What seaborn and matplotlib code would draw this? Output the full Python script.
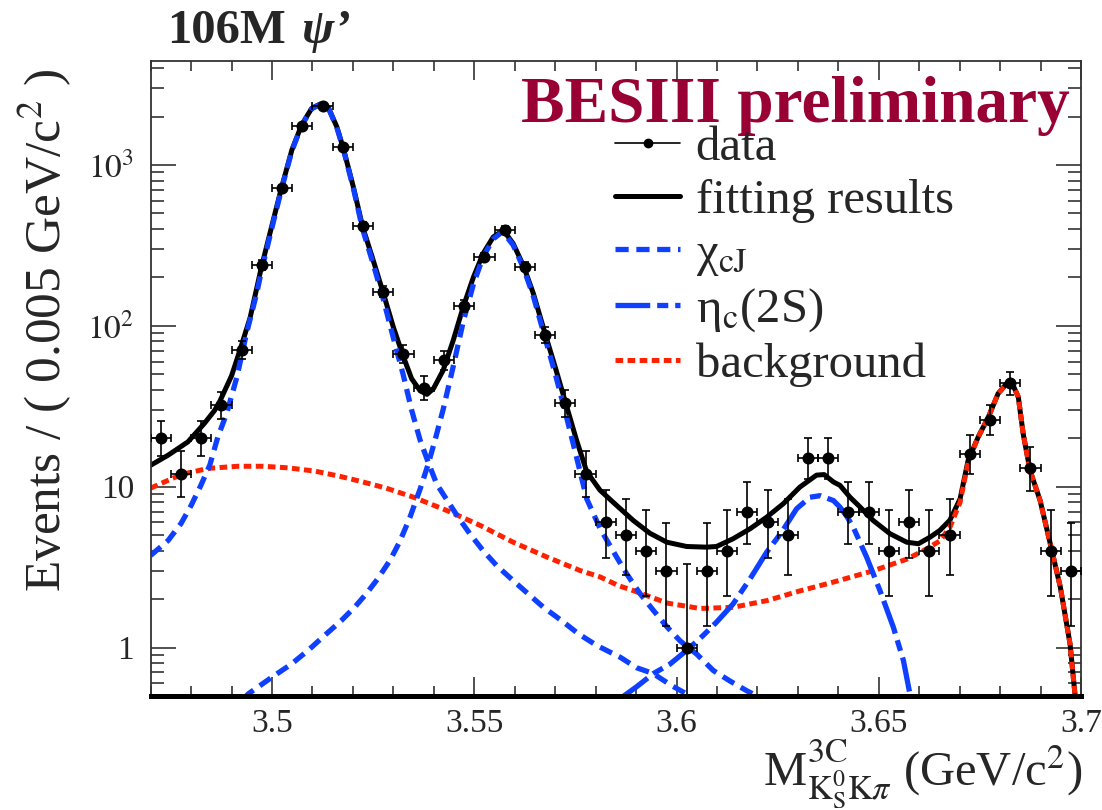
import math
import numpy as np
import pandas as pd
import matplotlib
matplotlib.use("Agg")
import matplotlib.pyplot as plt
import seaborn as sns
from matplotlib.lines import Line2D
from matplotlib.ticker import MultipleLocator, LogLocator, FixedLocator, NullFormatter

# ---------------- data ----------------
bin_centers = [3.4725, 3.4775, 3.4825, 3.4875, 3.4925, 3.4975, 3.5025, 3.5075, 3.5125, 3.5175,
               3.5225, 3.5275, 3.5325, 3.5375, 3.5425, 3.5475, 3.5525, 3.5575, 3.5625, 3.5675,
               3.5725, 3.5775, 3.5825, 3.5875, 3.5925, 3.5975, 3.6025, 3.6075, 3.6125, 3.6175,
               3.6225, 3.6275, 3.6325, 3.6375, 3.6425, 3.6475, 3.6525, 3.6575, 3.6625, 3.6675,
               3.6725, 3.6775, 3.6825, 3.6875, 3.6925, 3.6975]
counts = [20, 12, 20, 32, 71, 239, 720, 1747, 2325, 1294,
          418, 163, 67, 41, 61, 133, 268, 395, 233, 88,
          33, 12, 6, 5, 4, 3, 1, 3, 4, 7,
          6, 5, 15, 15, 7, 7, 4, 6, 4, 5,
          16, 26, 44, 13, 4, 3]
bin_width = 0.005

fit_x = [3.4700, 3.4743, 3.4792, 3.4833, 3.4858, 3.4871, 3.4900, 3.4921, 3.4946, 3.4974,
         3.5003, 3.5024, 3.5049, 3.5073, 3.5098, 3.5119, 3.5139, 3.5160, 3.5176, 3.5201,
         3.5224, 3.5250, 3.5274, 3.5300, 3.5324, 3.5345, 3.5366, 3.5383, 3.5399, 3.5423,
         3.5448, 3.5473, 3.5498, 3.5522, 3.5547, 3.5572, 3.5596, 3.5621, 3.5646, 3.5675,
         3.5700, 3.5724, 3.5753, 3.5778, 3.5811, 3.5852, 3.5893, 3.5934, 3.5976, 3.6025,
         3.6074, 3.6099, 3.6140, 3.6182, 3.6223, 3.6264, 3.6305, 3.6346, 3.6365, 3.6388,
         3.6404, 3.6429, 3.6454, 3.6486, 3.6528, 3.6569, 3.6598, 3.6627, 3.6651, 3.6676,
         3.6701, 3.6721, 3.6746, 3.6771, 3.6795, 3.6816, 3.6832, 3.6845, 3.6857, 3.6874,
         3.6899, 3.6924, 3.6949, 3.6973, 3.6985, 3.6990]
fit_y = [13.6, 15.7, 19.0, 24.8, 29.8, 34.0, 49.0, 71.0, 113, 233,
         454, 731, 1238, 1771, 2250, 2393, 2280, 1730, 1274, 731,
         412, 256, 163, 98, 65, 47, 39.5, 37.5, 40.7, 52.9,
         81.3, 132, 201, 282, 357, 393, 325, 238, 159, 89.5,
         55.5, 34.4, 19.4, 12.4, 9.5, 7.65, 6.17, 5.14, 4.52, 4.25,
         4.21, 4.25, 4.75, 5.48, 6.47, 7.84, 9.95, 11.8, 11.9, 10.7,
         10.2, 8.6, 7.47, 6.17, 5.1, 4.52, 4.42, 4.86, 5.35, 6.2,
         8.4, 14.6, 20.4, 27.1, 37.9, 43.7, 42.7, 36.1, 21.4, 12.6,
         8.2, 4.42, 2.37, 1.05, 0.515, 0.45]

chic1_x = [3.4700, 3.4743, 3.4775, 3.4800, 3.4824, 3.4846, 3.4866, 3.4888, 3.4913, 3.4937,
           3.4962, 3.4974, 3.5003, 3.5024, 3.5049, 3.5073, 3.5098, 3.5119, 3.5139, 3.5160,
           3.5176, 3.5201, 3.5224, 3.5250, 3.5274, 3.5300, 3.5324, 3.5345, 3.5366, 3.5386,
           3.5407, 3.5428, 3.5460, 3.5489, 3.5522, 3.5555, 3.5596, 3.5633, 3.5671, 3.5716,
           3.5757, 3.5803, 3.5861, 3.5901, 3.5942, 3.5988, 3.6025, 3.6040]
chic1_y = [3.74, 4.63, 5.91, 7.65, 10.2, 13.6, 20.4, 28.6, 48, 90,
           159, 220, 440, 717, 1225, 1758, 2237, 2380, 2267, 1717,
           1261, 718, 398, 243, 150, 84, 50, 30, 19.5, 14.2,
           10.4, 8.6, 6.47, 5.1, 4.0, 3.24, 2.61, 2.16, 1.78, 1.47,
           1.22, 1.03, 0.87, 0.75, 0.69, 0.58, 0.515, 0.49]

chic2_x = [3.4930, 3.4941, 3.4998, 3.5048, 3.5089, 3.5130, 3.5171, 3.5204, 3.5233, 3.5262,
           3.5292, 3.5316, 3.5341, 3.5366, 3.5386, 3.5403, 3.5423, 3.5448, 3.5473,
           3.5498, 3.5522, 3.5547, 3.5570, 3.5596, 3.5621, 3.5646, 3.5675, 3.5700, 3.5724,
           3.5753, 3.5778, 3.5811, 3.5852, 3.5877, 3.5910, 3.5943, 3.5977, 3.6009, 3.6050,
           3.6091, 3.6132, 3.6173, 3.6206]
chic2_y = [0.48, 0.515, 0.65, 0.79, 0.96, 1.19, 1.47, 1.78, 2.16, 2.69,
           3.5, 4.57, 6.46, 9.66, 13.8, 19.5, 30.2, 56, 107,
           182, 269, 347, 386, 318, 231, 153, 84, 50.5, 29.8,
           15.2, 8.4, 5.5, 3.65, 2.87, 2.16, 1.7, 1.34, 1.1, 0.91,
           0.72, 0.62, 0.54, 0.49]

etac_x = [3.5860, 3.5901, 3.5943, 3.5984, 3.6025, 3.6066, 3.6099, 3.6140, 3.6182, 3.6223,
          3.6260, 3.6297, 3.6330, 3.6355, 3.6388, 3.6404, 3.6420, 3.6437, 3.6470, 3.6503,
          3.6536, 3.6561, 3.6577, 3.6582]
etac_y = [0.48, 0.57, 0.69, 0.79, 0.96, 1.19, 1.44, 1.87, 2.68, 3.92,
          5.22, 7.3, 8.6, 8.8, 8.2, 7.47, 6.6, 5.6, 3.65, 2.26,
          1.34, 0.83, 0.515, 0.47]

bkg_x = [3.4700, 3.4775, 3.4842, 3.4916, 3.4978, 3.5040, 3.5106, 3.5168, 3.5225, 3.5282,
         3.5350, 3.5433, 3.5515, 3.5596, 3.5680, 3.5762, 3.5811, 3.5856, 3.5893, 3.5977,
         3.6058, 3.6140, 3.6224, 3.6305, 3.6387, 3.6486, 3.6570, 3.6610, 3.6651, 3.6676,
         3.6701, 3.6721, 3.6746, 3.6771, 3.6795, 3.6816, 3.6832, 3.6845, 3.6857, 3.6874,
         3.6899, 3.6924, 3.6949, 3.6973, 3.6985, 3.6990]
bkg_y = [9.8, 11.9, 13.0, 13.4, 13.4, 13.1, 12.5, 11.6, 10.7, 9.8,
         8.6, 7.1, 5.74, 4.52, 3.65, 3.01, 2.75, 2.43, 2.26, 1.89,
         1.75, 1.78, 1.96, 2.25, 2.55, 3.0, 3.55, 4.0, 4.6, 5.6,
         8.0, 14.2, 20.4, 27.1, 37.9, 43.7, 42.7, 36.1, 21.4, 12.6,
         8.2, 4.42, 2.37, 1.05, 0.515, 0.45]

x_ticks = [3.5, 3.55, 3.6, 3.65, 3.7]
x_tick_labels = ["3.5", "3.55", "3.6", "3.65", "3.7"]
y_ticks = [1, 10, 100, 1000]
y_tick_labels = ["1", "10", r"$10^{2}$", r"$10^{3}$"]

legend_labels = ["data", "fitting results", "\u03c7$_{\\mathrm{cJ}}$",
                 "\u03b7$_{\\mathrm{c}}$(2S)", "background"]


# ------------- Poisson (Garwood) 68% intervals -------------
def pois_cdf(k, mu):
    if k < 0:
        return 0.0
    lm = math.log(mu)
    s = 0.0
    for i in range(k + 1):
        s += math.exp(-mu + i * lm - math.lgamma(i + 1))
    return min(s, 1.0)


def garwood(n, alpha=0.158655):
    lo, hi = float(n), n + 10 * math.sqrt(n + 1) + 10
    for _ in range(60):
        mid = 0.5 * (lo + hi)
        if pois_cdf(n, mid) > alpha:
            lo = mid
        else:
            hi = mid
    up = 0.5 * (lo + hi)
    if n == 0:
        return 0.0, up
    lo, hi = 1e-9, float(n)
    for _ in range(60):
        mid = 0.5 * (lo + hi)
        if 1.0 - pois_cdf(n - 1, mid) < alpha:
            lo = mid
        else:
            hi = mid
    return 0.5 * (lo + hi), up


err_lo, err_hi = [], []
for n in counts:
    l, u = garwood(n)
    err_lo.append(n - l)
    err_hi.append(u - n)

df = pd.DataFrame({"m": bin_centers, "n": counts})

# ---------------- style ----------------
sns.set_style("ticks")
plt.rcParams.update({
    "font.family": ["Liberation Serif", "DejaVu Serif"],
    "mathtext.fontset": "stix",
    "lines.scale_dashes": False,
})

W, H = 1102, 810
fig = plt.figure(figsize=(W / 100, H / 100), dpi=100)
L, R, T, B = 150.7, 1081, 61, 696
ax = fig.add_axes([L / W, 1 - B / H, (R - L) / W, (B - T) / H])
ax.set_yscale("log")
ax.set_xlim(3.47, 3.70)
ax.set_ylim(0.5, 4430)

blue = "#1040ff"
red = "#ff2200"

# total fit
sns.lineplot(x=fit_x, y=fit_y, ax=ax, color="black", lw=3.6, sort=False)
# background
sns.lineplot(x=bkg_x, y=bkg_y, ax=ax, color=red, lw=3.6, sort=False,
             linestyle=(0, (5.5, 3.2)))
# chi_cJ
sns.lineplot(x=chic1_x, y=chic1_y, ax=ax, color=blue, lw=3.8, sort=False,
             linestyle=(0, (9.5, 5.5)))
sns.lineplot(x=chic2_x, y=chic2_y, ax=ax, color=blue, lw=3.8, sort=False,
             linestyle=(0, (9.5, 5.5)))
# eta_c(2S)
sns.lineplot(x=etac_x, y=etac_y, ax=ax, color=blue, lw=3.8, sort=False,
             linestyle=(0, (25, 5, 8, 5)))

# data with error bars
ax.errorbar(df["m"], df["n"], yerr=[err_lo, err_hi], xerr=bin_width / 2,
            fmt="none", ecolor="black", elinewidth=1.2, capsize=3, capthick=1.2, zorder=5)
sns.scatterplot(data=df, x="m", y="n", ax=ax, color="black", s=75, edgecolor="black",
                linewidth=0, zorder=6)

# ---------------- axes ----------------
for s in ["top", "left", "right"]:
    ax.spines[s].set_linewidth(1.3)
    ax.spines[s].set_color("#333333")
ax.spines["bottom"].set_linewidth(3.6)
ax.spines["bottom"].set_color("black")

ax.xaxis.set_major_locator(FixedLocator(x_ticks))
ax.set_xticklabels(x_tick_labels)
ax.xaxis.set_minor_locator(MultipleLocator(0.01))
ax.yaxis.set_major_locator(FixedLocator(y_ticks))
ax.set_yticklabels(y_tick_labels)
ax.yaxis.set_minor_locator(LogLocator(base=10, subs=range(2, 10)))
ax.yaxis.set_minor_formatter(NullFormatter())

ax.tick_params(which="both", direction="in", top=True, right=True, color="#333333", width=1.2)
ax.tick_params(axis="x", which="major", length=14, pad=9, labelsize=24)
ax.tick_params(axis="x", which="minor", length=7.5)
ax.tick_params(axis="y", which="major", length=18, pad=12, labelsize=24)
ax.tick_params(axis="y", which="minor", length=9.5)
ax.set_xlabel("")
ax.set_ylabel("")


def fx(x):
    return x / W


def fy(y):
    return 1 - y / H


# texts
fig.text(fx(45), fy(330), "Events / ( 0.005 GeV/c$^{2}$ )", rotation=90,
         ha="center", va="center", fontsize=37)
fig.text(fx(1082), fy(786), r"M$^{\mathrm{3C}}_{\mathrm{K^{0}_{S}K}\pi}$ (GeV/c$^{2}$)",
         ha="right", va="baseline", fontsize=35)
fig.text(fx(167), fy(43), "106M", fontsize=35, fontweight="bold", ha="left", va="baseline")
fig.text(fx(302), fy(43), "\u03c8\u2019", fontsize=35, fontweight="bold", fontstyle="italic",
         ha="left", va="baseline")
fig.text(fx(1070), fy(122), "BESIII preliminary", fontsize=47, fontweight="bold",
         color="#990033", ha="right", va="baseline")

# legend
handles = [
    Line2D([], [], color="black", lw=1.2, marker="o", ms=6),
    Line2D([], [], color="black", lw=3.6),
    Line2D([], [], color=blue, lw=3.8, linestyle=(0, (9.5, 5.5))),
    Line2D([], [], color=blue, lw=3.8, linestyle=(0, (25, 5, 8, 5))),
    Line2D([], [], color=red, lw=3.6, linestyle=(0, (5.5, 3.2))),
]
fig.legend(handles, legend_labels, loc="upper left",
           bbox_to_anchor=(fx(615), fy(126)), bbox_transform=fig.transFigure,
           frameon=False, fontsize=35, handlelength=1.34, handletextpad=0.32,
           labelspacing=0.18, borderpad=0, borderaxespad=0)

fig.savefig("out.png", dpi=100)
